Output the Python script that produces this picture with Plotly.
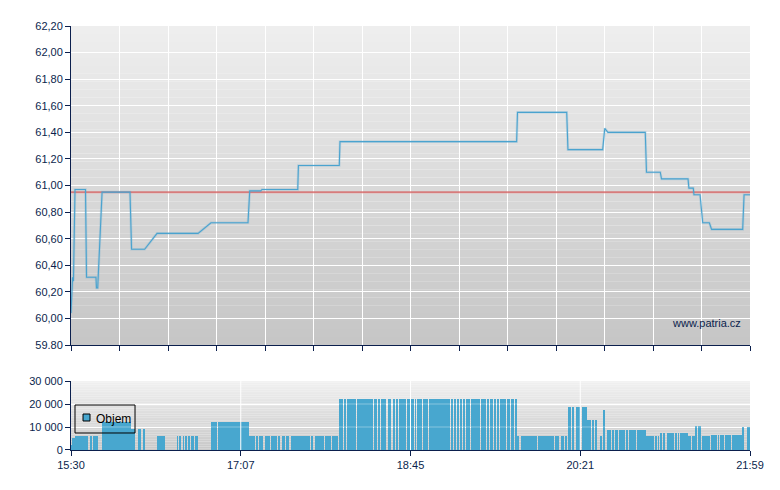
import plotly.graph_objects as go

# ---- data (x in minutes after 15:30) ----
session_len = 389
price_t = [0, 0.9, 1.4, 2.3, 8.3, 8.9, 14.3, 14.6, 15.3, 17.8,
           33.8, 34.7, 42.2, 49.3, 72.8, 80.2, 101.4, 102.4, 108.7, 109.4,
           129.9, 130.3, 153.7, 154.1, 255.3, 255.8, 284.0, 284.7, 304.6, 305.8,
           307.6, 329.0, 329.7, 337.6, 338.3, 353.5, 354.0, 356.5, 356.9, 360.4,
           361.9, 365.7, 367.0, 384.8, 385.6, 389]
price_v = [60.04, 60.31, 60.28, 60.97, 60.97, 60.31, 60.31, 60.23, 60.23, 60.95,
           60.95, 60.52, 60.52, 60.64, 60.64, 60.72, 60.72, 60.96, 60.96, 60.97,
           60.97, 61.15, 61.15, 61.33, 61.33, 61.55, 61.55, 61.27, 61.27, 61.43,
           61.40, 61.40, 61.10, 61.10, 61.05, 61.05, 60.98, 60.98, 60.93, 60.93,
           60.72, 60.72, 60.67, 60.67, 60.93, 60.93]
prev_close = 60.95

vol_start = [0, 0.6, 1.1, 2.3, 10.9, 12.4, 17.8, 34.2, 38.4, 39.5,
             41.4, 49.3, 60.8, 62.0, 64.2, 65.5, 67.4, 69.0, 71.0, 80.2,
             84.2, 102.0, 106.0, 107.5, 111.0, 114.6, 118.4, 120.7, 123.3, 125.8,
             137.5, 139.8, 145.7, 149.5, 153.5, 156.4, 158.1, 163.8, 173.6, 175.9,
             177.6, 181.6, 184.5, 186.6, 187.9, 192.7, 194.8, 197.1, 198.2, 201.7,
             205.1, 217.7, 219.4, 221.1, 222.9, 224.6, 226.3, 229.2, 234.9, 237.0,
             238.3, 240.2, 242.2, 244.1, 245.6, 249.8, 252.1, 254.4, 255.5, 257.8,
             267.6, 277.3, 280.7, 283.0, 284.7, 287.1, 289.3, 292.7, 295.6, 299.0,
             300.2, 303.6, 304.8, 307.1, 310.5, 311.7, 314.0, 315.2, 316.8, 318.5,
             319.7, 324.3, 329.5, 333.4, 335.1, 336.3, 337.4, 339.2, 341.5, 346.1,
             347.8, 348.9, 353.5, 355.8, 357.5, 359.2, 361.5, 362.6, 366.7, 370.7,
             371.8, 373.5, 374.7, 378.7, 384.4, 384.9, 387.2]
vol_end = [0.6, 1.1, 2.1, 9.6, 11.6, 15.3, 34.2, 36.8, 39.0, 40.1,
           42.0, 53.7, 61.3, 62.6, 64.7, 66.5, 68.3, 70.2, 72.8, 83.5,
           102.0, 105.4, 106.7, 110.2, 114.0, 118.0, 119.7, 122.8, 124.9, 137.1,
           138.6, 144.8, 149.0, 153.0, 155.8, 157.5, 163.3, 173.0, 175.3, 177.0,
           180.5, 183.3, 185.6, 187.3, 191.9, 194.0, 196.5, 197.6, 201.1, 204.5,
           217.1, 218.7, 220.6, 222.3, 223.8, 225.9, 228.6, 234.3, 236.4, 237.8,
           239.6, 241.6, 243.5, 244.8, 249.0, 251.3, 253.8, 255.5, 256.7, 267.0,
           276.7, 279.6, 282.4, 284.2, 286.5, 288.2, 291.6, 295.6, 297.9, 299.6,
           300.8, 304.2, 305.9, 309.4, 311.1, 313.5, 314.6, 315.7, 317.4, 319.1,
           323.7, 329.5, 332.9, 334.0, 335.7, 336.8, 338.6, 340.3, 345.5, 347.2,
           348.3, 353.5, 355.2, 357.5, 358.6, 360.9, 362.1, 366.1, 370.1, 371.2,
           373.0, 374.1, 378.1, 383.8, 384.9, 385.5, 389.0]
vol_value = [2200, 4300, 5300, 6100, 6100, 6100, 12200, 9300, 9000, 9000,
             9000, 6100, 6100, 6100, 6100, 6100, 6100, 6100, 6100, 12200,
             12200, 6100, 6100, 6100, 6100, 6100, 6100, 6100, 6100, 6100,
             6100, 6100, 6100, 6100, 22300, 22300, 22300, 22300, 22300, 22300,
             22300, 22300, 22300, 22300, 22300, 22300, 22300, 22300, 22300, 22300,
             22300, 22300, 22300, 22300, 22300, 22300, 22300, 22300, 22300, 22300,
             22300, 22300, 22300, 22300, 22300, 22300, 22300, 22300, 6100, 6100,
             6100, 6100, 6100, 6100, 18500, 18500, 18500, 18500, 13000, 13000,
             13000, 6100, 17200, 8900, 8900, 8900, 8900, 8900, 8900, 8900,
             8900, 8900, 6100, 6100, 6100, 6100, 7200, 7200, 7200, 7200,
             7200, 7200, 6000, 6000, 10600, 10600, 6000, 6000, 6500, 6500,
             6500, 6500, 6500, 6500, 6500, 9800, 10200]

price_ticks = [59.8, 60.0, 60.2, 60.4, 60.6, 60.8, 61.0, 61.2, 61.4, 61.6, 61.8, 62.0, 62.2]
price_tick_labels = ["59.80", "60,00", "60,20", "60,40", "60,60", "60,80", "61,00",
                     "61,20", "61,40", "61,60", "61,80", "62,00", "62,20"]
vol_ticks = [0, 10000, 20000, 30000]
vol_tick_labels = ["0", "10 000", "20 000", "30 000"]
time_ticks = [0, 97.25, 194.5, 291.75, 389]
time_tick_labels = ["15:30", "17:07", "18:45", "20:21", "21:59"]
legend_label = "Objem"
watermark = "www.patria.cz"

# ---- style ----
NAVY = "#0b1f4d"
BLUE = "#48a7cf"
FONT = "Liberation Sans"

vol_mid = [(a + b) / 2 for a, b in zip(vol_start, vol_end)]
vol_w = [(b - a) for a, b in zip(vol_start, vol_end)]

fig = go.Figure()

fig.add_trace(go.Bar(x=vol_mid, y=vol_value, width=vol_w, name=legend_label,
                     marker=dict(color=BLUE, line=dict(width=0)),
                     xaxis="x", yaxis="y", showlegend=False, hoverinfo="skip"))
fig.add_trace(go.Scatter(x=[0, session_len], y=[prev_close, prev_close], mode="lines",
                         line=dict(color="rgba(214,100,100,0.8)", width=2),
                         xaxis="x2", yaxis="y2", showlegend=False, hoverinfo="skip"))
fig.add_trace(go.Scatter(x=price_t, y=price_v, mode="lines",
                         line=dict(color="rgba(72,160,205,0.22)", width=2.6),
                         xaxis="x2", yaxis="y2", showlegend=False, hoverinfo="skip"))
fig.add_trace(go.Scatter(x=price_t, y=price_v, mode="lines",
                         line=dict(color="#4aa3cf", width=1.1),
                         xaxis="x2", yaxis="y2", showlegend=False, hoverinfo="skip"))

shapes = []
N = 40
for ax, c0, c1 in (("2", 239, 197), ("", 241, 200)):
    for i in range(N):
        c = round(c0 + (c1 - c0) * (i + 0.5) / N)
        shapes.append(dict(type="rect", xref=f"x{ax} domain", yref=f"y{ax} domain",
                           x0=0, x1=1, y0=1 - (i + 1) / N, y1=1 - i / N,
                           fillcolor=f"rgb({c},{c},{c})", line=dict(width=0), layer="below"))
for tv in time_ticks[1:-1]:
    shapes.append(dict(type="line", xref="x", yref="y domain", x0=tv, x1=tv, y0=0, y1=1,
                       line=dict(color="white", width=1), layer="above"))
for tv in vol_ticks[1:]:
    shapes.append(dict(type="line", xref="x domain", yref="y", x0=0, x1=1, y0=tv, y1=tv,
                       line=dict(color="rgba(255,255,255,0.35)", width=1), layer="above"))
# legend box (drawn by hand to match the compact original)
shapes.append(dict(type="rect", xref="paper", yref="paper", x0=0.0059, x1=0.0943, y0=0.0401, y1=0.1061,
                   line=dict(color="black", width=1), fillcolor="rgba(0,0,0,0)", layer="above"))
shapes.append(dict(type="rect", xref="paper", yref="paper", x0=0.0177, x1=0.0280, y0=0.0684, y1=0.0849,
                   line=dict(color="black", width=1), fillcolor=BLUE, layer="above"))

axis_common = dict(showline=True, linecolor=NAVY, linewidth=1, ticks="outside", tickcolor=NAVY,
                   ticklen=5, tickwidth=1, gridcolor="white", gridwidth=1, zeroline=False,
                   tickfont=dict(family=FONT, size=11, color=NAVY))

fig.update_layout(
    width=772, height=482,
    margin=dict(l=63, r=30, t=18, b=40, autoexpand=False),
    paper_bgcolor="white", plot_bgcolor="white",
    font=dict(family=FONT, size=11, color=NAVY),
    showlegend=False,
    bargap=0,
    xaxis=dict(domain=[0, 1], range=[0, session_len], tickvals=time_ticks, ticktext=time_tick_labels,
               showgrid=False, anchor="y", **axis_common),
    yaxis=dict(domain=[0, 0.1627], range=[0, 30000], tickvals=vol_ticks, ticktext=vol_tick_labels,
               showgrid=True, anchor="x", **axis_common),
    xaxis2=dict(domain=[0, 1], range=[0, session_len], tick0=0, dtick=session_len / 14,
                showticklabels=False, showgrid=True, anchor="y2", **axis_common),
    yaxis2=dict(domain=[0.2476, 1], range=[59.8, 62.2], tickvals=price_ticks, ticktext=price_tick_labels,
                showgrid=True, anchor="x2", **axis_common),
    shapes=shapes,
    annotations=[
        dict(text=watermark, xref="paper", yref="paper", x=0.99, y=0.2995,
             xanchor="right", yanchor="middle", showarrow=False,
             font=dict(family=FONT, size=11, color=NAVY)),
        dict(text=legend_label, xref="paper", yref="paper", x=0.0345, y=0.0731,
             xanchor="left", yanchor="middle", showarrow=False,
             font=dict(family=FONT, size=12, color="black")),
    ],
)

fig.write_html("out.html")
